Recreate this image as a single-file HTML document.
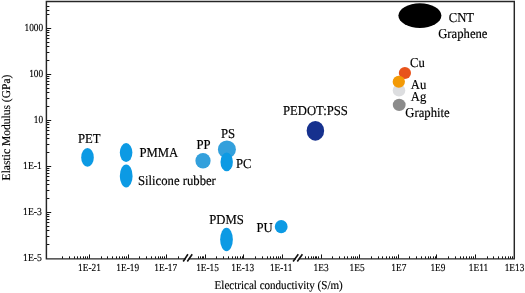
<!DOCTYPE html>
<html><head><meta charset="utf-8"><style>
html,body{margin:0;padding:0;background:#fff;width:525px;height:293px;overflow:hidden}
svg{display:block;will-change:transform}
text{font-family:"Liberation Serif",serif;text-rendering:geometricPrecision}
</style></head><body>
<svg width="525" height="293" viewBox="0 0 525 293" font-family="Liberation Serif, serif">
<path d="M46.4 28.5h4.8M46.4 74.5h4.8M46.4 120.5h4.8M46.4 166.5h4.8M46.4 212.5h4.8M46.4 60.5h3.0M46.4 52.5h3.0M46.4 46.5h3.0M46.4 42.5h3.0M46.4 38.5h3.0M46.4 35.5h3.0M46.4 32.5h3.0M46.4 30.5h3.0M46.4 106.5h3.0M46.4 98.5h3.0M46.4 92.5h3.0M46.4 88.5h3.0M46.4 84.5h3.0M46.4 81.5h3.0M46.4 78.5h3.0M46.4 76.5h3.0M46.4 152.5h3.0M46.4 144.5h3.0M46.4 138.5h3.0M46.4 134.5h3.0M46.4 130.5h3.0M46.4 127.5h3.0M46.4 124.5h3.0M46.4 122.5h3.0M46.4 198.5h3.0M46.4 190.5h3.0M46.4 184.5h3.0M46.4 180.5h3.0M46.4 176.5h3.0M46.4 173.5h3.0M46.4 170.5h3.0M46.4 168.5h3.0M46.4 244.5h3.0M46.4 236.5h3.0M46.4 230.5h3.0M46.4 226.5h3.0M46.4 222.5h3.0M46.4 219.5h3.0M46.4 216.5h3.0M46.4 214.5h3.0M46.4 6.5h3.0M46.4 10.5h3.0M46.4 14.5h3.0M89.5 258.85v-4.4M128.5 258.85v-4.4M166.5 258.85v-4.4M205.5 258.85v-4.4M243.5 258.85v-4.4M282.5 258.85v-4.4M321.5 258.85v-4.4M359.5 258.85v-4.4M398.5 258.85v-4.4M436.5 258.85v-4.4M475.5 258.85v-4.4M62.5 258.85v-2.5M69.5 258.85v-2.5M74.5 258.85v-2.5M77.5 258.85v-2.5M80.5 258.85v-2.5M83.5 258.85v-2.5M85.5 258.85v-2.5M87.5 258.85v-2.5M101.5 258.85v-2.5M107.5 258.85v-2.5M112.5 258.85v-2.5M116.5 258.85v-2.5M119.5 258.85v-2.5M122.5 258.85v-2.5M124.5 258.85v-2.5M126.5 258.85v-2.5M139.5 258.85v-2.5M146.5 258.85v-2.5M151.5 258.85v-2.5M155.5 258.85v-2.5M158.5 258.85v-2.5M160.5 258.85v-2.5M162.5 258.85v-2.5M164.5 258.85v-2.5M178.5 258.85v-2.5M198.5 258.85v-2.5M200.5 258.85v-2.5M202.5 258.85v-2.5M203.5 258.85v-2.5M216.5 258.85v-2.5M223.5 258.85v-2.5M228.5 258.85v-2.5M232.5 258.85v-2.5M235.5 258.85v-2.5M237.5 258.85v-2.5M240.5 258.85v-2.5M242.5 258.85v-2.5M255.5 258.85v-2.5M262.5 258.85v-2.5M267.5 258.85v-2.5M270.5 258.85v-2.5M273.5 258.85v-2.5M276.5 258.85v-2.5M278.5 258.85v-2.5M280.5 258.85v-2.5M305.5 258.85v-2.5M308.5 258.85v-2.5M311.5 258.85v-2.5M313.5 258.85v-2.5M315.5 258.85v-2.5M316.5 258.85v-2.5M318.5 258.85v-2.5M332.5 258.85v-2.5M339.5 258.85v-2.5M344.5 258.85v-2.5M347.5 258.85v-2.5M351.5 258.85v-2.5M353.5 258.85v-2.5M355.5 258.85v-2.5M357.5 258.85v-2.5M371.5 258.85v-2.5M378.5 258.85v-2.5M382.5 258.85v-2.5M386.5 258.85v-2.5M389.5 258.85v-2.5M392.5 258.85v-2.5M394.5 258.85v-2.5M396.5 258.85v-2.5M409.5 258.85v-2.5M416.5 258.85v-2.5M421.5 258.85v-2.5M425.5 258.85v-2.5M428.5 258.85v-2.5M430.5 258.85v-2.5M433.5 258.85v-2.5M435.5 258.85v-2.5M448.5 258.85v-2.5M455.5 258.85v-2.5M460.5 258.85v-2.5M463.5 258.85v-2.5M466.5 258.85v-2.5M469.5 258.85v-2.5M471.5 258.85v-2.5M473.5 258.85v-2.5M487.5 258.85v-2.5M493.5 258.85v-2.5M498.5 258.85v-2.5M502.5 258.85v-2.5M505.5 258.85v-2.5M508.5 258.85v-2.5M510.5 258.85v-2.5M512.5 258.85v-2.5" stroke="#111" stroke-width="1" fill="none"/>
<path d="M185.2 258.85H46.4V1.4H514.3V258.85H299.5M295.3 258.85H189.3" stroke="#262626" stroke-width="1.45" fill="none" stroke-linejoin="miter" stroke-linecap="square"/>
<path d="M183.2 261.5L187.9 254.2M187.3 261.5L192.2 254.2M293.1 261.5L298.3 254.2M297.3 261.5L302.4 254.2" stroke="#111" stroke-width="1.6" fill="none"/>
<text transform="translate(43.1 31) scale(0.87 1)" text-anchor="end" font-size="10.7" fill="#000" stroke="#000" stroke-width="0.15">1000</text>
<text transform="translate(43.1 77) scale(0.87 1)" text-anchor="end" font-size="10.7" fill="#000" stroke="#000" stroke-width="0.15">100</text>
<text transform="translate(43.1 123) scale(0.87 1)" text-anchor="end" font-size="10.7" fill="#000" stroke="#000" stroke-width="0.15">10</text>
<text transform="translate(41.9 169.1) scale(0.905 1)" text-anchor="end" font-size="10.7" fill="#000" stroke="#000" stroke-width="0.15">1E-1</text>
<text transform="translate(41.9 215.1) scale(0.905 1)" text-anchor="end" font-size="10.7" fill="#000" stroke="#000" stroke-width="0.15">1E-3</text>
<text transform="translate(41.9 261.1) scale(0.905 1)" text-anchor="end" font-size="10.7" fill="#000" stroke="#000" stroke-width="0.15">1E-5</text>
<text transform="translate(89.45 270.7) scale(0.87 1)" text-anchor="middle" font-size="10.7" fill="#000" stroke="#000" stroke-width="0.15">1E-21</text>
<text transform="translate(127.7 270.7) scale(0.87 1)" text-anchor="middle" font-size="10.7" fill="#000" stroke="#000" stroke-width="0.15">1E-19</text>
<text transform="translate(165.7 270.7) scale(0.87 1)" text-anchor="middle" font-size="10.7" fill="#000" stroke="#000" stroke-width="0.15">1E-17</text>
<text transform="translate(207.5 270.7) scale(0.87 1)" text-anchor="middle" font-size="10.7" fill="#000" stroke="#000" stroke-width="0.15">1E-15</text>
<text transform="translate(242.7 270.7) scale(0.87 1)" text-anchor="middle" font-size="10.7" fill="#000" stroke="#000" stroke-width="0.15">1E-13</text>
<text transform="translate(281.1 270.7) scale(0.87 1)" text-anchor="middle" font-size="10.7" fill="#000" stroke="#000" stroke-width="0.15">1E-11</text>
<text transform="translate(321.1 270.7) scale(0.87 1)" text-anchor="middle" font-size="10.7" fill="#000" stroke="#000" stroke-width="0.15">1E3</text>
<text transform="translate(357.1 270.7) scale(0.87 1)" text-anchor="middle" font-size="10.7" fill="#000" stroke="#000" stroke-width="0.15">1E5</text>
<text transform="translate(398.8 270.7) scale(0.87 1)" text-anchor="middle" font-size="10.7" fill="#000" stroke="#000" stroke-width="0.15">1E7</text>
<text transform="translate(437.9 270.7) scale(0.87 1)" text-anchor="middle" font-size="10.7" fill="#000" stroke="#000" stroke-width="0.15">1E9</text>
<text transform="translate(478.5 270.7) scale(0.87 1)" text-anchor="middle" font-size="10.7" fill="#000" stroke="#000" stroke-width="0.15">1E11</text>
<text transform="translate(514.5 270.7) scale(0.87 1)" text-anchor="middle" font-size="10.7" fill="#000" stroke="#000" stroke-width="0.15">1E13</text>
<ellipse cx="87.5" cy="157.4" rx="6.3" ry="9.4" fill="#0c9ae4"/>
<ellipse cx="126.1" cy="152.6" rx="6.3" ry="9.5" fill="#0c9ae4"/>
<ellipse cx="126.2" cy="175.9" rx="6.4" ry="11.5" fill="#0c9ae4"/>
<ellipse cx="203" cy="160.7" rx="7.6" ry="7.75" fill="#33a0dc"/>
<ellipse cx="226.9" cy="149.4" rx="9" ry="9" fill="#33a0dc"/>
<ellipse cx="226.7" cy="161.9" rx="6.2" ry="9.4" fill="#0c9ae4"/>
<ellipse cx="226.5" cy="239.5" rx="6.35" ry="11.75" fill="#0c9ae4"/>
<ellipse cx="281.2" cy="226.7" rx="6.4" ry="6.6" fill="#0c9ae4"/>
<ellipse cx="315.4" cy="130.8" rx="8.75" ry="9.9" fill="#16318e"/>
<ellipse cx="419.9" cy="15.6" rx="21.5" ry="12.3" fill="#000"/>
<ellipse cx="404.9" cy="72.9" rx="6.1" ry="6" fill="#e8531b"/>
<ellipse cx="399" cy="90.4" rx="6.3" ry="6.2" fill="#dddee0"/>
<ellipse cx="399.2" cy="104.9" rx="6.4" ry="6.2" fill="#8b8b8b"/>
<ellipse cx="398.8" cy="81.7" rx="6.15" ry="5.95" fill="#f39a06"/>
<text transform="translate(78 142.6) scale(0.933 1.0)" font-size="13.6" fill="#000" stroke="#000" stroke-width="0.18">PET</text>
<text transform="translate(139.5 157.2) scale(0.933 1.0)" font-size="13.6" fill="#000" stroke="#000" stroke-width="0.18">PMMA</text>
<text transform="translate(138 185.2) scale(0.933 1.0)" font-size="13.6" fill="#000" stroke="#000" stroke-width="0.18">Silicone rubber</text>
<text transform="translate(196.4 148.6) scale(0.933 1.0)" font-size="13.6" fill="#000" stroke="#000" stroke-width="0.18">PP</text>
<text transform="translate(221 138.2) scale(0.933 1.0)" font-size="13.6" fill="#000" stroke="#000" stroke-width="0.18">PS</text>
<text transform="translate(236 168.1) scale(0.933 1.0)" font-size="13.6" fill="#000" stroke="#000" stroke-width="0.18">PC</text>
<text transform="translate(209.2 223.6) scale(0.933 1.0)" font-size="13.6" fill="#000" stroke="#000" stroke-width="0.18">PDMS</text>
<text transform="translate(256.4 231.5) scale(0.933 1.0)" font-size="13.6" fill="#000" stroke="#000" stroke-width="0.18">PU</text>
<text transform="translate(283 115.1) scale(0.933 1.0)" font-size="13.6" fill="#000" stroke="#000" stroke-width="0.18">PEDOT:PSS</text>
<text transform="translate(448.7 21.6) scale(0.933 1.0)" font-size="13.6" fill="#000" stroke="#000" stroke-width="0.18">CNT</text>
<text transform="translate(438.2 38.3) scale(0.933 1.0)" font-size="13.6" fill="#000" stroke="#000" stroke-width="0.18">Graphene</text>
<text transform="translate(410 66.5) scale(0.933 1.0)" font-size="13.6" fill="#000" stroke="#000" stroke-width="0.18">Cu</text>
<text transform="translate(410.8 88.9) scale(0.933 1.0)" font-size="13.6" fill="#000" stroke="#000" stroke-width="0.18">Au</text>
<text transform="translate(410.8 100.9) scale(0.933 1.0)" font-size="13.6" fill="#000" stroke="#000" stroke-width="0.18">Ag</text>
<text transform="translate(405.3 117.3) scale(0.933 1.0)" font-size="13.6" fill="#000" stroke="#000" stroke-width="0.18">Graphite</text>
<text transform="translate(214.6 289.2) scale(0.92 1)" font-size="12" fill="#000" stroke="#000" stroke-width="0.15">Electrical conductivity (S/m)</text>
<text transform="translate(9.9 180.4) rotate(-90) scale(0.962 1)" font-size="12" fill="#000" stroke="#000" stroke-width="0.15">Elastic Modulus (GPa)</text>
</svg>
</body></html>
